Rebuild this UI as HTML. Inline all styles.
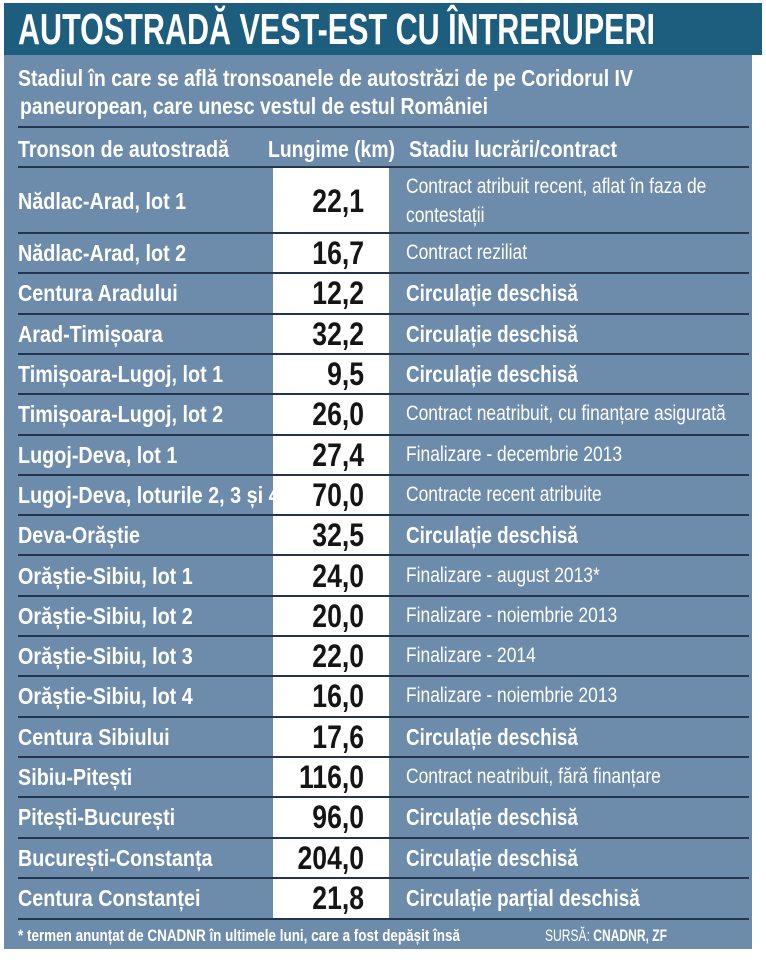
<!DOCTYPE html>
<html><head><meta charset="utf-8">
<style>
body{margin:0;width:766px;height:960px;background:#fff;overflow:hidden;font-family:"Liberation Sans",sans-serif;}
#panel{position:absolute;left:4px;top:3px;width:748px;height:946px;background:#6d8cab;}
#titlebar{position:absolute;left:4px;top:3px;width:758px;height:52px;background:#1d5e7e;}
.t{position:absolute;white-space:nowrap;color:#fff;transform-origin:0 0;}
.sep{position:absolute;left:18px;width:731px;height:2px;background:#24364f;}
#white{position:absolute;left:273px;top:168px;width:116px;height:751px;background:#fff;}
</style></head><body>
<div id="panel"></div>
<div id="titlebar"></div>
<div class="t fit" data-w="637" style="left:18px;top:5px;font-size:44px;line-height:50px;font-weight:bold;">AUTOSTRADĂ VEST-EST CU ÎNTRERUPERI</div>
<div class="t fit" data-w="615" style="left:18px;top:65px;font-size:23px;font-weight:bold;">Stadiul în care se află tronsoanele de autostrăzi de pe Coridorul IV</div>
<div class="t fit" data-w="468" style="left:20px;top:93px;font-size:23px;font-weight:bold;">paneuropean, care unesc vestul de estul României</div>
<div class="sep" style="top:126px"></div>
<div class="t fit" data-w="211" style="left:18px;top:136px;font-size:23px;font-weight:bold;">Tronson de autostradă</div>
<div class="t fit" data-w="127" style="left:268px;top:136px;font-size:23px;font-weight:bold;">Lungime (km)</div>
<div class="t fit" data-w="208" style="left:409px;top:136px;font-size:23px;font-weight:bold;">Stadiu lucrări/contract</div>
<div class="sep" style="top:166px"></div>
<div id="white"></div>
<div id="rows"></div>
<div class="sep" style="top:918px"></div>
<div class="t fit" data-w="442" style="left:18px;top:926px;font-size:17px;font-weight:bold;">* termen anunțat de CNADNR în ultimele luni, care a fost depășit însă</div>
<div class="t fit" data-w="122" style="left:545px;top:926px;font-size:17px;">SURSĂ: <b>CNADNR, ZF</b></div>
<script>
const segments=["Nădlac-Arad, lot 1","Nădlac-Arad, lot 2","Centura Aradului","Arad-Timișoara","Timișoara-Lugoj, lot 1","Timișoara-Lugoj, lot 2","Lugoj-Deva, lot 1","Lugoj-Deva, loturile 2, 3 și 4","Deva-Orăștie","Orăștie-Sibiu, lot 1","Orăștie-Sibiu, lot 2","Orăștie-Sibiu, lot 3","Orăștie-Sibiu, lot 4","Centura Sibiului","Sibiu-Pitești","Pitești-București","București-Constanța","Centura Constanței"];
const lengths=["22,1","16,7","12,2","32,2","9,5","26,0","27,4","70,0","32,5","24,0","20,0","22,0","16,0","17,6","116,0","96,0","204,0","21,8"];
const statuses=["Contract atribuit recent, aflat în faza de<br>contestații","Contract reziliat","Circulație deschisă","Circulație deschisă","Circulație deschisă","Contract neatribuit, cu finanțare asigurată","Finalizare - decembrie 2013","Contracte recent atribuite","Circulație deschisă","Finalizare - august 2013*","Finalizare - noiembrie 2013","Finalizare - 2014","Finalizare - noiembrie 2013","Circulație deschisă","Contract neatribuit, fără finanțare","Circulație deschisă","Circulație deschisă","Circulație parțial deschisă"];
const boldStatus=[0,0,1,1,1,0,0,0,1,0,0,0,0,1,0,1,1,1];
const root=document.getElementById('rows');
function rowTop(i){return i===0?168:233+(i-1)*40.3;}
function rowH(i){return i===0?65:40.3;}
for(let i=0;i<segments.length;i++){
  const top=rowTop(i),h=rowH(i),cy=top+h/2;
  const a=document.createElement('div');
  
  
  a.className='t';a.style.cssText=`left:18px;top:${cy-14}px;font-size:23px;font-weight:bold;line-height:28px;transform:scaleX(0.86);`;
  a.textContent=segments[i];root.appendChild(a);
  const b=document.createElement('div');
  
  
  b.className='t';b.style.cssText=`left:200px;width:164px;text-align:right;top:${cy-19}px;font-size:32px;font-weight:bold;line-height:38px;color:#151515;transform:scaleX(0.83);transform-origin:100% 0;`;
  b.textContent=lengths[i];root.appendChild(b);
  const c=document.createElement('div');
  
  
  const two=statuses[i].includes('<br>');
  const bs=boldStatus[i];
  c.className='t';c.style.cssText=`left:406px;top:${two?cy-29:cy-14}px;font-size:${bs?23:21}px;font-weight:${bs?'bold':'normal'};line-height:${two?29:28}px;transform:scaleX(${bs?0.82:0.83});`;
  c.innerHTML=statuses[i];root.appendChild(c);
  if(i<segments.length-1){
    const s=document.createElement('div');
    
    
    s.className='sep';s.style.top=(top+h-1)+'px';root.appendChild(s);
  }
}
document.querySelectorAll('.fit').forEach(el=>{
  const w=el.getBoundingClientRect().width;
  const target=+el.getAttribute('data-w');
  if(w>0) el.style.transform='scaleX('+(target/w)+')';
});
</script>
</body></html>
